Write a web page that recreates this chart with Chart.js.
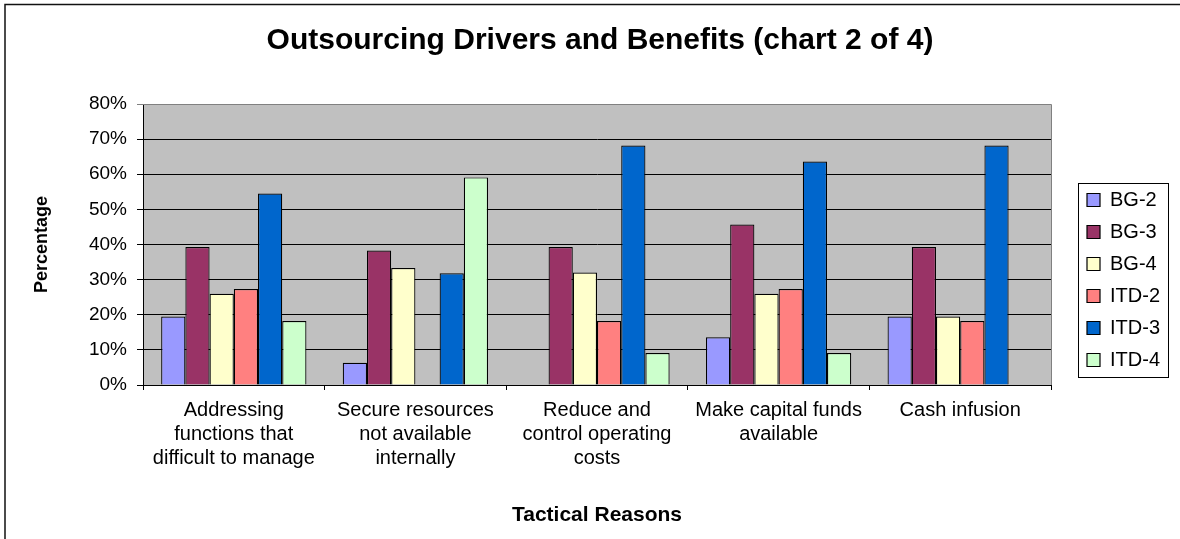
<!DOCTYPE html>
<html>
<head>
<meta charset="utf-8">
<script src="https://cdn.jsdelivr.net/npm/chart.js@4/dist/chart.umd.min.js"></script>
<style>
  html, body { margin: 0; padding: 0; background: #ffffff; }
  canvas { display: block; }
</style>
</head>
<body>
<canvas id="c" width="1180" height="539"></canvas>
<script>
// ---- Data ----
const categories = [
  ["Addressing", "functions that", "difficult to manage"],
  ["Secure resources", "not available", "internally"],
  ["Reduce and", "control operating", "costs"],
  ["Make capital funds", "available"],
  ["Cash infusion"]
];
const seriesNames = ["BG-2", "BG-3", "BG-4", "ITD-2", "ITD-3", "ITD-4"];
const bg2  = [19.5, 6.3, 0, 13.6, 19.5];
const bg3  = [39.3, 38.3, 39.3, 45.7, 39.3];
const bg4  = [26.0, 33.3, 32.0, 26.0, 19.5];
const itd2 = [27.3, 0, 18.2, 27.3, 18.2];
const itd3 = [54.5, 31.8, 68.2, 63.6, 68.2];
const itd4 = [18.2, 59.1, 9.1, 9.1, 0];
const yTicks = [0, 10, 20, 30, 40, 50, 60, 70, 80];

const seriesValues = [bg2, bg3, bg4, itd2, itd3, itd4];
const seriesColors = ["#9999FF", "#993366", "#FFFFCC", "#FF8080", "#0066CC", "#CCFFCC"];

const FONT = "'Liberation Sans', Arial, sans-serif";
Chart.defaults.font.family = FONT;
Chart.defaults.color = "#000";

const decorPlugin = {
  id: "decor",
  beforeDraw(chart) {
    const {ctx, chartArea: a} = chart;
    ctx.save();
    ctx.fillStyle = "#ffffff";
    ctx.fillRect(0, 0, chart.width, chart.height);
    ctx.fillStyle = "#C0C0C0";
    ctx.fillRect(a.left, a.top, a.right - a.left, a.bottom - a.top);
    ctx.restore();
  },
  afterDraw(chart) {
    const {ctx, chartArea: a} = chart;
    ctx.save();
    // plot area right/top border
    ctx.strokeStyle = "#808080";
    ctx.lineWidth = 1;
    ctx.beginPath();
    ctx.moveTo(a.left, a.top + 0.5);
    ctx.lineTo(a.right + 0.5, a.top + 0.5);
    ctx.lineTo(a.right + 0.5, a.bottom);
    ctx.stroke();
    // legend frame
    const hb = chart.legend && chart.legend.legendHitBoxes;
    if (hb && hb.length) {
      let l = Infinity, r = -Infinity, t = Infinity, b = -Infinity;
      hb.forEach(h => { l = Math.min(l, h.left); r = Math.max(r, h.left + h.width); t = Math.min(t, h.top); b = Math.max(b, h.top + h.height); });
      ctx.strokeStyle = "#000";
      ctx.lineWidth = 1;
      ctx.strokeRect(Math.round(l - 9) + 0.5, Math.round(t - 7) + 0.5, Math.round(r - l + 17), Math.round(b - t + 14));
    }
    // outer frame
    ctx.strokeStyle = "#111";
    ctx.lineWidth = 1.5;
    ctx.strokeRect(5, 4.5, chart.width + 20, chart.height + 20);
    ctx.restore();
  }
};

new Chart(document.getElementById("c"), {
  type: "bar",
  data: {
    labels: categories,
    datasets: seriesNames.map((name, i) => ({
      label: name,
      data: seriesValues[i],
      backgroundColor: seriesColors[i],
      borderColor: "#000",
      borderWidth: 1.2,
      categoryPercentage: 0.8,
      barPercentage: 1.0
    }))
  },
  options: {
    responsive: false,
    animation: false,
    devicePixelRatio: 1,
    layout: { padding: { left: 30, right: 10, top: 0, bottom: 0 } },
    plugins: {
      title: {
        display: true,
        text: "Outsourcing Drivers and Benefits (chart 2 of 4)",
        font: { size: 30, weight: "bold", family: FONT },
        color: "#000",
        padding: { top: 23, bottom: 45 }
      },
      legend: {
        display: true,
        position: "right",
        align: "start",
        title: { display: true, text: "", font: { size: 10, lineHeight: 1 }, padding: { top: 168, bottom: 0 } },
        labels: {
          boxWidth: 13,
          boxHeight: 13,
          padding: 12,
          color: "#000",
          font: { size: 20, family: FONT }
        }
      },
      tooltip: { enabled: false }
    },
    scales: {
      x: {
        grid: { display: true, drawOnChartArea: false, drawTicks: true, tickLength: 5, color: "#000", lineWidth: 1 },
        border: { display: true, color: "#000", width: 1 },
        ticks: { color: "#000", font: { size: 20, lineHeight: 1.2 }, padding: 8, maxRotation: 0, autoSkip: false },
        title: { display: true, text: "Tactical Reasons", color: "#000", font: { size: 21, weight: "bold", lineHeight: 1.2 }, padding: { top: 0, bottom: 11 } },
        afterFit(s) { s.height = 154; }
      },
      y: {
        min: 0,
        max: 80,
        afterBuildTicks(s) { s.ticks = yTicks.map(v => ({ value: v })); },
        grid: {
          color: c => (c.tick && c.tick.value === 80 ? "#808080" : "#000"),
          lineWidth: 1,
          tickLength: 6,
          drawTicks: true
        },
        border: { display: true, color: "#000", width: 1 },
        ticks: { color: "#000", font: { size: 19 }, padding: 10, callback: v => v + "%" },
        title: { display: true, text: "Percentage", color: "#000", font: { size: 18, weight: "bold", lineHeight: 1 }, padding: { top: 3, bottom: 0 } },
        afterFit(s) { s.width = 113; }
      },
      gap: {
        type: "linear",
        axis: "y",
        position: "right",
        display: true,
        grid: { display: false, drawTicks: false },
        border: { display: false },
        ticks: { display: false },
        afterFit(s) { s.width = 24; }
      }
    }
  },
  plugins: [decorPlugin]
});
</script>
</body>
</html>
